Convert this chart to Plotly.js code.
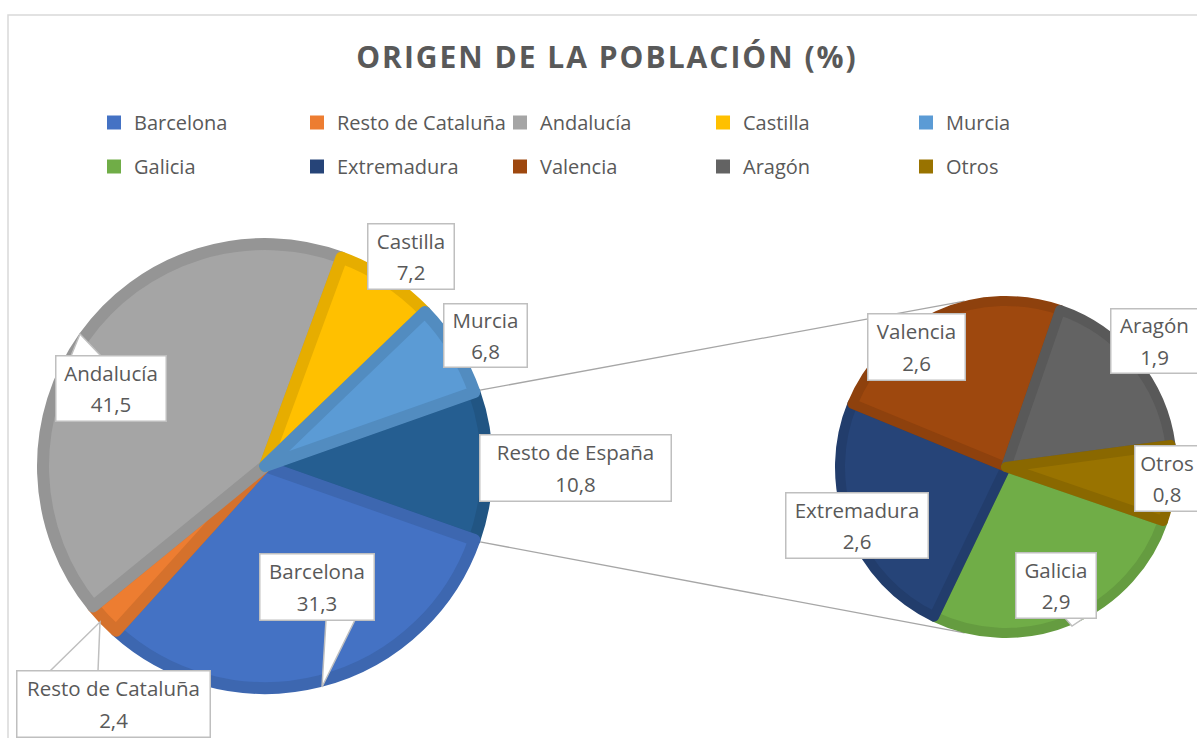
<!DOCTYPE html>
<html><head><meta charset="utf-8">
<script src="https://cdn.plot.ly/plotly-3.0.1.min.js"></script>
<style>html,body{margin:0;padding:0;background:#fff}#chart{width:1197px;height:738px}
.pielayer path.surface{stroke-linejoin:round}</style>
</head><body><div id="chart"></div>
<script>
// ---- data ----
const mainLabels = ['Resto de España', 'Barcelona', 'Resto de Cataluña', 'Andalucía', 'Castilla', 'Murcia'];
const mainValues = [10.8, 31.3, 2.4, 41.5, 7.2, 6.8];
const subLabels = ['Galicia', 'Extremadura', 'Valencia', 'Aragón', 'Otros'];
const subValues = [2.9, 2.6, 2.6, 1.9, 0.8];
const legendRow1 = ['Barcelona', 'Resto de Cataluña', 'Andalucía', 'Castilla', 'Murcia'];
const legendRow2 = ['Galicia', 'Extremadura', 'Valencia', 'Aragón', 'Otros'];
const titleText = 'ORIGEN DE LA POBLACIÓN (%)';

// ---- style ----
const fill = {
  'Barcelona': '#4472C4', 'Resto de Cataluña': '#ED7D31', 'Andalucía': '#A5A5A5',
  'Castilla': '#FFC000', 'Murcia': '#5B9BD5', 'Resto de España': '#255E91',
  'Galicia': '#70AD47', 'Extremadura': '#264478', 'Valencia': '#9E480E',
  'Aragón': '#636363', 'Otros': '#997300'
};
function darker(hex, f) {
  const n = parseInt(hex.slice(1), 16);
  const r = Math.round(((n >> 16) & 255) * f), g = Math.round(((n >> 8) & 255) * f), b = Math.round((n & 255) * f);
  return 'rgb(' + r + ',' + g + ',' + b + ')';
}
const W = 1197, H = 738;
const X = p => p / W, Y = p => 1 - p / H;
const TXT = '#595959', BOX = '#BFBFBF', FONT = 'Open Sans';
const main = {cx: 265, cy: 466, R: 228, lw: 12};
const sub = {cx: 1006, cy: 467, R: 171, lw: 10};
const subRotation = 109;

// label boxes: centre x, centre y, width, height (px)
const boxes = {
  'Castilla': [411, 256, 88, 67], 'Murcia': [485.5, 335, 85, 65],
  'Andalucía': [111, 388, 112, 67], 'Resto de España': [575.5, 468, 193, 68],
  'Barcelona': [317, 587, 116, 68], 'Resto de Cataluña': [113.5, 704, 195, 68],
  'Valencia': [916.5, 347, 99, 68], 'Aragón': [1154.5, 341, 89, 66],
  'Otros': [1167, 478.5, 66, 67], 'Extremadura': [857, 525.5, 144, 67],
  'Galicia': [1056, 585.5, 82, 67]
};
// callout pointers: base x1, base x2, base y, tip x, tip y
const pointers = [
  [71, 101, 356, 80, 334], [326, 355, 620, 322, 687],
  [50, 98, 671, 100, 622], [1065, 1084, 618, 1072, 626]
];

const fmt = v => v.toFixed(1).replace('.', ',');
const total = mainValues.reduce((a, b) => a + b, 0);
const restIdx = mainLabels.indexOf('Resto de España');
const halfRest = 180 * mainValues[restIdx] / total;

function dom(g) {
  const r = g.R - g.lw / 2;
  return {x: [X(g.cx - r), X(g.cx + r)], y: [(H - g.cy - r) / H, (H - g.cy + r) / H]};
}

const traces = [];
traces.push({
  type: 'pie', labels: mainLabels, values: mainValues, sort: false, direction: 'clockwise',
  rotation: 90 - halfRest, textinfo: 'none', hoverinfo: 'label+value', showlegend: false,
  domain: dom(main),
  marker: {colors: mainLabels.map(l => fill[l]), line: {color: mainLabels.map(l => darker(fill[l], 0.9)), width: main.lw}}
});
traces.push({
  type: 'pie', labels: subLabels, values: subValues, sort: false, direction: 'clockwise',
  rotation: subRotation, textinfo: 'none', hoverinfo: 'label+value', showlegend: false,
  domain: dom(sub),
  marker: {colors: subLabels.map(l => fill[l]), line: {color: subLabels.map(l => darker(fill[l], 0.9)), width: sub.lw}}
});
legendRow1.forEach(l => traces.push({type: 'scatter', x: [null], y: [null], mode: 'markers', name: l, legend: 'legend',
  marker: {symbol: 'square', size: 14, color: fill[l]}, hoverinfo: 'skip'}));
legendRow2.forEach(l => traces.push({type: 'scatter', x: [null], y: [null], mode: 'markers', name: l, legend: 'legend2',
  marker: {symbol: 'square', size: 14, color: fill[l]}, hoverinfo: 'skip'}));

// shapes
const shapes = [];
shapes.push({type: 'rect', xref: 'paper', yref: 'paper', x0: X(8), y0: Y(15), x1: X(1500), y1: Y(1000),
  line: {color: '#D9D9D9', width: 1.5}, fillcolor: 'rgba(0,0,0,0)', layer: 'below'});
function pt(g, deg) {
  const a = deg * Math.PI / 180;
  return [g.cx + g.R * Math.sin(a), g.cy - g.R * Math.cos(a)];
}
const m1 = pt(main, 90 - halfRest), m2 = pt(main, 90 + halfRest);
const s1 = pt(sub, 346), s2 = pt(sub, 194);
[[m1, s1], [m2, s2]].forEach(([a, b]) => shapes.push({type: 'line', xref: 'paper', yref: 'paper',
  x0: X(a[0]), y0: Y(a[1]), x1: X(b[0]), y1: Y(b[1]), line: {color: '#A6A6A6', width: 1.3}, layer: 'below'}));
pointers.forEach(p => shapes.push({type: 'path', xref: 'paper', yref: 'paper',
  path: 'M' + X(p[0]) + ',' + Y(p[2]) + ' L' + X(p[3]) + ',' + Y(p[4]) + ' L' + X(p[1]) + ',' + Y(p[2]) + ' Z',
  fillcolor: '#FFFFFF', line: {color: BOX, width: 1.5}, layer: 'above'}));

// annotations
const values = {};
mainLabels.forEach((l, i) => values[l] = mainValues[i]);
subLabels.forEach((l, i) => values[l] = subValues[i]);
const annotations = Object.keys(boxes).map(l => {
  const b = boxes[l];
  return {xref: 'paper', yref: 'paper', x: X(b[0]), y: Y(b[1]), xanchor: 'center', yanchor: 'middle',
    showarrow: false, bgcolor: '#FFFFFF', bordercolor: BOX, borderwidth: 1.5, borderpad: 0,
    width: b[2] - 3, height: b[3] - 3, align: 'center', valign: 'middle',
    font: {family: FONT, size: 24, color: TXT},
    text: '<span style="font-size:20.5px">' + l + '</span><br><span style="font-size:20.5px">' + fmt(values[l]) + '</span>'};
});

const legendBase = {orientation: 'h', xanchor: 'left', yanchor: 'top', x: X(94),
  entrywidth: 158, entrywidthmode: 'pixels', bgcolor: 'rgba(0,0,0,0)',
  font: {family: FONT, size: 20, color: TXT}};

const layout = {
  width: W, height: H, margin: {l: 0, r: 0, t: 0, b: 0},
  paper_bgcolor: '#FFFFFF', plot_bgcolor: '#FFFFFF',
  title: {text: '<span style="letter-spacing:2px">' + titleText + '</span>', xref: 'paper', yref: 'paper',
    x: X(607), xanchor: 'center', y: Y(57), yanchor: 'middle',
    font: {family: FONT, size: 30, color: TXT, weight: 'bold'}},
  xaxis: {visible: false}, yaxis: {visible: false},
  legend: Object.assign({}, legendBase, {y: Y(103)}),
  legend2: Object.assign({}, legendBase, {y: Y(147)}),
  shapes: shapes, annotations: annotations
};
Plotly.newPlot('chart', traces, layout, {displayModeBar: false});
</script></body></html>
